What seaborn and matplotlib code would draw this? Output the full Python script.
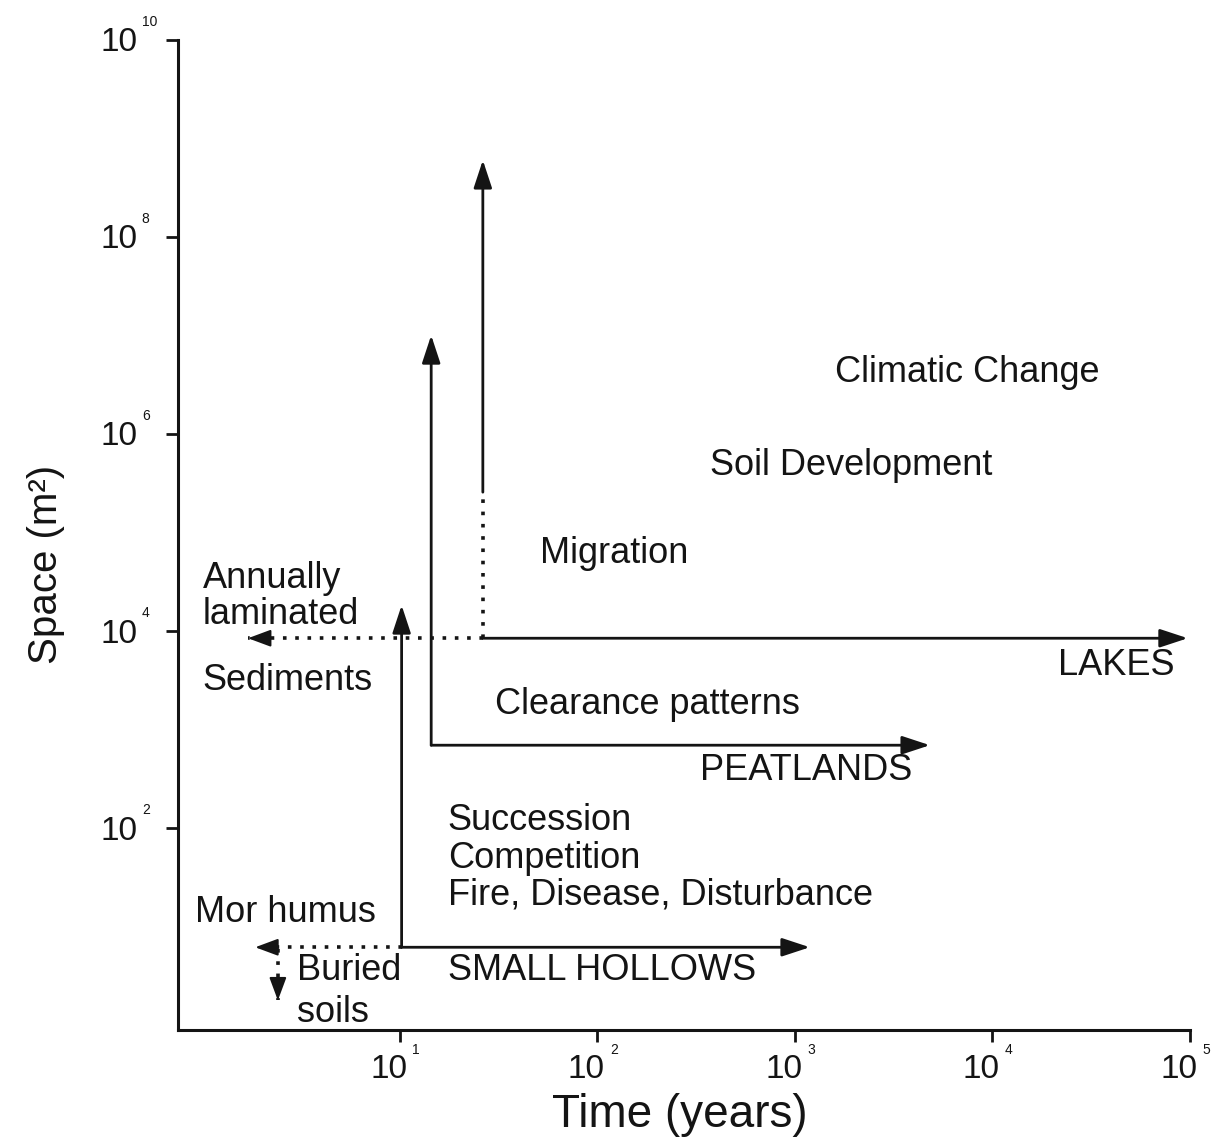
import matplotlib
matplotlib.use("Agg")
import matplotlib.pyplot as plt
import pandas as pd
import seaborn as sns

# ---- data (time in years, space in m^2) ----
# arrows: start / end points
arrow_name = ["lakes", "migration", "annual_sed", "peat_up", "peat_right",
              "hollow_up", "hollow_right", "mor_humus", "buried_soils"]
arrow_t0 = [26.3, 26.3, 26.3, 14.4, 14.4, 10.2, 10.2, 10.2, 2.41]
arrow_s0 = [8492, 2.58e5, 8492, 697, 697, 6.2, 6.2, 6.2, 6.0]
arrow_t1 = [97700, 26.3, 1.70, 14.4, 4830, 10.2, 1191, 1.85, 2.41]
arrow_s1 = [8492, 6.05e8, 8492, 1.01e7, 697, 18370, 6.2, 6.2, 1.79]
arrow_dotted = [False, False, True, False, False, False, False, True, True]

# dotted stem of the migration arrow (no head)
stem_t = [26.3, 26.3]
stem_s = [8492, 2.58e5]

# text labels
label_text = ["Climatic Change", "Soil Development", "Migration",
              "Annually", "laminated", "Sediments", "LAKES",
              "Clearance patterns", "PEATLANDS", "Succession", "Competition",
              "Fire, Disease, Disturbance", "Mor humus", "Buried", "soils",
              "SMALL HOLLOWS"]
label_t = [1596, 372, 51.2, 1.0, 1.0, 1.0, 83900, 30.3, 330, 17.5, 17.5,
           17.5, 0.916, 3.01, 3.01, 17.5]
label_s = [4.27e6, 4.84e5, 6.19e4, 3.45e4, 1.49e4, 3185, 4519, 1816, 388,
           120, 49.5, 20.9, 14.0, 3.61, 1.36, 3.61]
label_ha = ["left"] * 6 + ["right"] + ["left"] * 9

xtick_vals = [1e1, 1e2, 1e3, 1e4, 1e5]
xtick_exp = ["1", "2", "3", "4", "5"]
ytick_vals = [1e2, 1e4, 1e6, 1e8, 1e10]
ytick_exp = ["2", "4", "6", "8", "10"]

# ---- style ----
sns.set_theme(style="ticks")
plt.rcParams["font.family"] = ["Liberation Sans", "DejaVu Sans"]
ink = "#141414"
dots = (0, (1, 2.4))

fig = plt.figure(figsize=(12.19, 11.46), dpi=100)
ax = fig.add_axes([0.146, 0.101, 0.830, 0.864])
ax.set_xscale("log")
ax.set_yscale("log")
ax.set_xlim(10 ** -0.124, 1e5)
ax.set_ylim(10 ** -0.05, 1e10)

# dotted shafts through seaborn
dotted_rows = []
for i, (t0, s0, t1, s1, d) in enumerate(zip(arrow_t0, arrow_s0, arrow_t1, arrow_s1, arrow_dotted)):
    if d:
        dotted_rows += [(arrow_name[i], t0, s0), (arrow_name[i], t1, s1)]
dotted_rows += [("stem", stem_t[0], stem_s[0]), ("stem", stem_t[1], stem_s[1])]
dotted_df = pd.DataFrame(dotted_rows, columns=["seg", "time", "space"])
sns.lineplot(data=dotted_df, x="time", y="space", units="seg", estimator=None,
             sort=False, ax=ax, color=ink, lw=2.6, linestyle=dots)

head = "-|>,head_length=0.85,head_width=0.28"
for t0, s0, t1, s1, dotted in zip(arrow_t0, arrow_s0, arrow_t1, arrow_s1, arrow_dotted):
    if dotted:
        # just the filled head at the tip
        dx = 0 if t1 == t0 else (14 if t0 > t1 else -14)
        dy = 0 if s1 == s0 else (14 if s0 > s1 else -14)
        ax.annotate("", xy=(t1, s1), xytext=(dx, dy), textcoords="offset points",
                    arrowprops=dict(arrowstyle="-|>,head_length=0.7,head_width=0.26",
                                    mutation_scale=20, color=ink,
                                    lw=1.5, shrinkA=0, shrinkB=0))
    else:
        ax.annotate("", xy=(t1, s1), xytext=(t0, s0),
                    arrowprops=dict(arrowstyle=head, mutation_scale=20, color=ink,
                                    lw=2.0, shrinkA=0, shrinkB=0))

for txt, t, s, ha in zip(label_text, label_t, label_s, label_ha):
    ax.text(t, s, txt, ha=ha, va="center", fontsize=26, color=ink)

# ticks: "10" with a small raised exponent, like the original figure
ax.set_xticks(xtick_vals)
ax.set_yticks(ytick_vals)
ax.minorticks_off()
ax.set_xticklabels([])
ax.set_yticklabels([])
ax.tick_params(axis="both", direction="out", length=8.5, width=2, color=ink)
for v, e in zip(xtick_vals, xtick_exp):
    ax.annotate("10", xy=(v, 0), xycoords=("data", "axes fraction"),
                xytext=(-8, -17), textcoords="offset points",
                ha="center", va="top", fontsize=24, color=ink)
    ax.annotate(e, xy=(v, 0), xycoords=("data", "axes fraction"),
                xytext=(9, -14), textcoords="offset points",
                ha="left", va="center", fontsize=10, color=ink)
for v, e in zip(ytick_vals, ytick_exp):
    ax.annotate("10", xy=(0, v), xycoords=("axes fraction", "data"),
                xytext=(-29, -2), textcoords="offset points",
                ha="right", va="center", fontsize=24, color=ink)
    ax.annotate(e, xy=(0, v), xycoords=("axes fraction", "data"),
                xytext=(-26, 13), textcoords="offset points",
                ha="left", va="center", fontsize=10, color=ink)

ax.set_xlabel("Time (years)", fontsize=33, color=ink)
ax.set_ylabel("Space (m²)", fontsize=29, color=ink)
ax.xaxis.set_label_coords(0.496, -0.063)
ax.yaxis.set_label_coords(-0.112, 0.47)

sns.despine(ax=ax)
for sp in ["left", "bottom"]:
    ax.spines[sp].set_linewidth(2.2)
    ax.spines[sp].set_color(ink)

fig.savefig("out.png", dpi=100, facecolor="white")
